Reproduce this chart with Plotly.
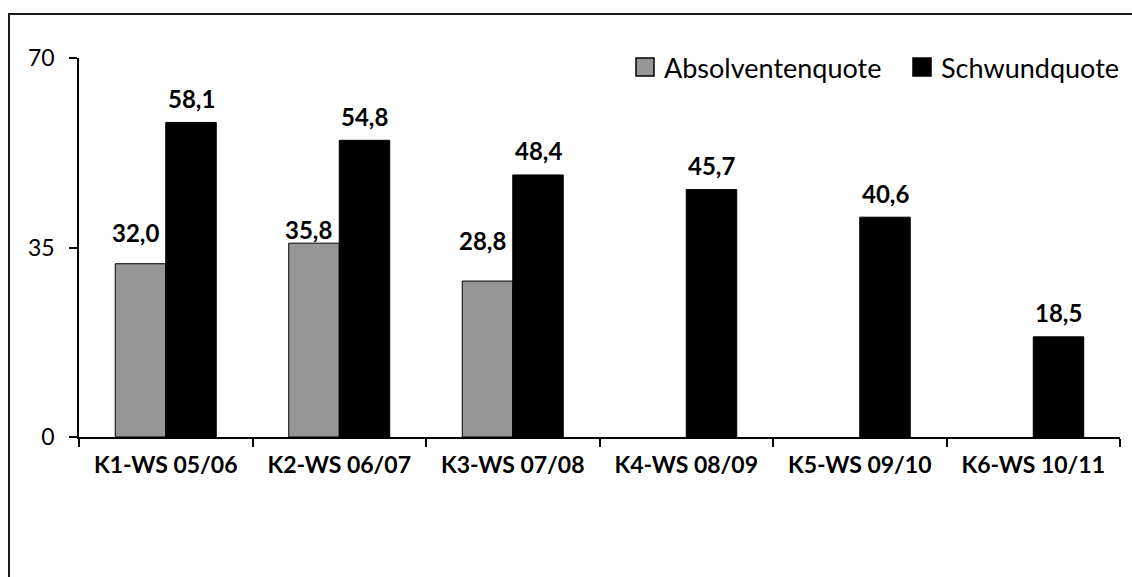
import plotly.graph_objects as go

# Kohorten und Quoten (in %)
kohorten = ["K1-WS 05/06", "K2-WS 06/07", "K3-WS 07/08", "K4-WS 08/09", "K5-WS 09/10", "K6-WS 10/11"]
absolventenquote = [32.0, 35.8, 28.8, None, None, None]
schwundquote = [58.1, 54.8, 48.4, 45.7, 40.6, 18.5]
serien = ["Absolventenquote", "Schwundquote"]
y_ticks = [0, 35, 70]

FONT = "Lato"
GRAU = "#969696"
SCHWARZ = "#000000"

# plot area in pixels (page 1132 x 577)
L, R, T, B = 79, 1120, 58, 437
W, H = 1132, 577


def px_x(px):
    return (px - L) / (R - L)


def px_y(py):
    return (B - py) / (B - T)


def fmt(v):
    return f"{v:.1f}".replace(".", ",")


fig = go.Figure()
fig.add_trace(go.Bar(x=kohorten, y=absolventenquote, name=serien[0],
                     marker=dict(color=GRAU, line=dict(color="#000000", width=1)),
                     showlegend=False))
fig.add_trace(go.Bar(x=kohorten, y=schwundquote, name=serien[1],
                     marker=dict(color=SCHWARZ, line=dict(color="#000000", width=1)),
                     showlegend=False))

# value labels above each bar
bar_half = 25.3
grau_lift = [31, 14, 41]
for i, (k, v) in enumerate(zip(kohorten, absolventenquote)):
    if v is None:
        continue
    fig.add_annotation(x=k, y=v, text=f"<b>{fmt(v)}</b>", showarrow=False,
                       xshift=-bar_half - 5, yshift=grau_lift[i], yanchor="middle",
                       font=dict(family=FONT, size=24, color="#000000"))
for k, v in zip(kohorten, schwundquote):
    fig.add_annotation(x=k, y=v, text=f"<b>{fmt(v)}</b>", showarrow=False,
                       xshift=bar_half, yshift=24, yanchor="middle",
                       font=dict(family=FONT, size=24, color="#000000"))

# legend drawn as squares + text
legend_y = 67
legend_items = [(636, GRAU, serien[0]), (913, SCHWARZ, serien[1])]
for lx, col, name in legend_items:
    fig.add_shape(type="rect", xref="paper", yref="paper",
                  x0=px_x(lx), x1=px_x(lx + 18), y0=px_y(legend_y + 9), y1=px_y(legend_y - 9),
                  fillcolor=col, line=dict(color="#000000", width=1.5))
    fig.add_annotation(xref="paper", yref="paper", x=px_x(lx + 26), y=px_y(legend_y),
                       text=name, showarrow=False, xanchor="left", yanchor="middle",
                       font=dict(family=FONT, size=27, color="#000000"))

# outer chart frame
fig.add_shape(type="rect", xref="paper", yref="paper",
              x0=px_x(9), x1=px_x(1145), y0=px_y(590), y1=px_y(14),
              line=dict(color="#1a1a1a", width=2), fillcolor="rgba(0,0,0,0)")

fig.update_layout(
    width=W, height=H,
    margin=dict(l=L, r=W - R, t=T, b=H - B),
    paper_bgcolor="#ffffff", plot_bgcolor="#ffffff",
    barmode="group", bargap=0.418, bargroupgap=0,
    font=dict(family=FONT, color="#000000"),
)
fig.update_xaxes(
    type="category", showline=True, linecolor="#000000", linewidth=1.5,
    ticks="outside", ticklen=8, tickwidth=1.5, tickcolor="#000000", tickson="boundaries",
    tickfont=dict(family=FONT, size=23, color="#000000", weight="bold"),
    ticklabelstandoff=7, showgrid=False, zeroline=False,
)
fig.update_yaxes(
    range=[0, 70], tickvals=y_ticks, ticktext=[str(t) for t in y_ticks],
    showline=True, linecolor="#000000", linewidth=1.5,
    ticks="outside", ticklen=8, tickwidth=1.5, tickcolor="#000000",
    tickfont=dict(family=FONT, size=23, color="#000000"),
    ticklabelstandoff=10, showgrid=False, zeroline=False,
)

fig.write_html("out.html")
